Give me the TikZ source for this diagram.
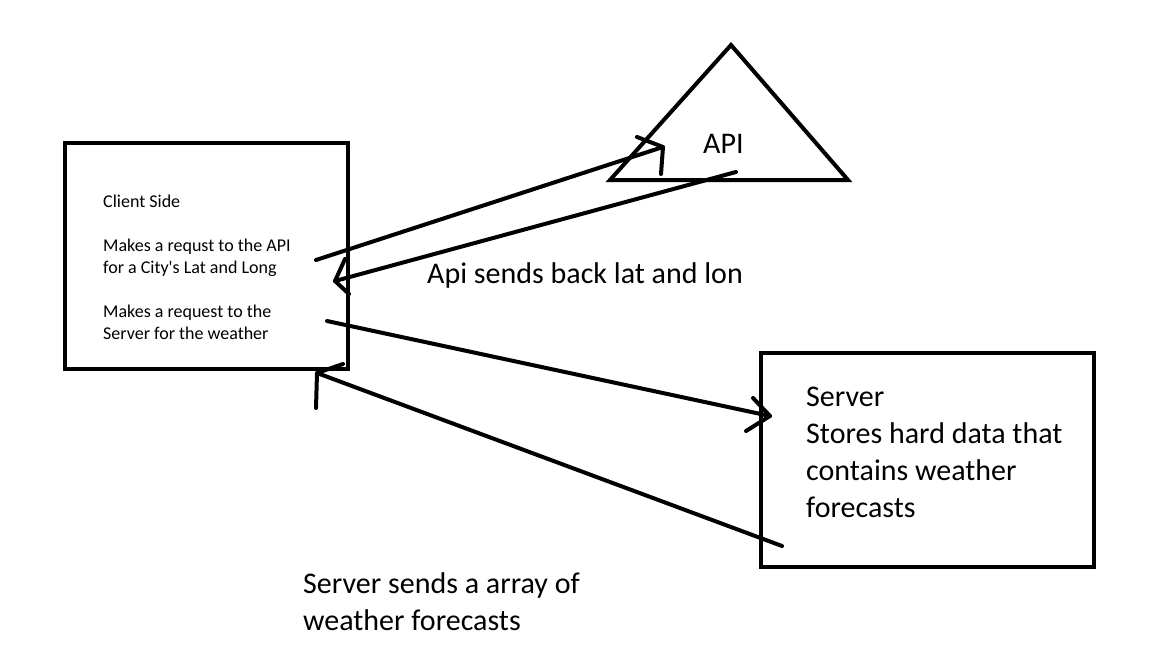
\documentclass[tikz,border=0pt]{standalone}
\usepackage{fontspec}
\setmainfont[Ligatures=TeXOff]{Carlito}
\begin{document}
\begin{tikzpicture}[x=1pt,y=-1pt,
  ink/.style={line width=4pt,black},
  pen/.style={line width=4pt,black,line cap=round,line join=round},
  small/.style={font=\fontsize{18}{22}\selectfont,anchor=base west,inner sep=0pt},
  big/.style={font=\fontsize{30}{37}\selectfont,anchor=base west,inner sep=0pt}]
\useasboundingbox[fill=white] (0,0) rectangle (1152,648);
% shapes
\draw[ink] (65,143) rectangle (348,369);
\coordinate (apex) at (731,45);
\coordinate (bl) at (610,180);
\coordinate (br) at (848,180);
\draw[ink,line join=miter] (apex) -- (br) -- (bl) -- cycle;
\draw[ink] (761,353) rectangle (1094,567);
% texts
\node[small] (cs) at (103,207) {Client Side};
\node[small] (r1) at (103,251) {Makes a requst to the API};
\node[small] (r1b) at (103,273) {for a City's Lat and Long};
\node[small] (r2) at (103,317) {Makes a request to the};
\node[small] (r2b) at (103,339) {Server for the weather};
\node[big] (api) at (703,153) {API};
\node[big] (back) at (427,283) {Api sends back lat and lon};
\node[big] (sv) at (806,406) {Server};
\node[big] (sv1) at (806,443) {Stores hard data that};
\node[big] (sv2) at (806,480) {contains weather};
\node[big] (sv3) at (806,517) {forecasts};
\node[big] (arr1) at (303,593) {Server sends a array of};
\node[big] (arr2) at (303,630) {weather forecasts};
% connectors
\coordinate (a1s) at (316,260); \coordinate (a1t) at (663,147);
\coordinate (a1u) at (637,137); \coordinate (a1d) at (661,174);
\draw[pen] (a1s) -- (a1t);
\draw[pen] (a1u) -- (a1t) -- (a1d);
\coordinate (a2s) at (736,172); \coordinate (a2t) at (335,281);
\coordinate (a2u) at (345,259); \coordinate (a2d) at (349,294);
\draw[pen] (a2s) -- (a2t);
\draw[pen] (a2u) -- (a2t) -- (a2d);
\coordinate (a3s) at (327,321); \coordinate (a3t) at (770,416);
\coordinate (a3u) at (753,398); \coordinate (a3d) at (746,431);
\draw[pen] (a3s) -- (a3t);
\draw[pen] (a3u) -- (a3t) -- (a3d);
\coordinate (a4s) at (782,546); \coordinate (a4t) at (317,373);
\coordinate (a4u) at (343,364); \coordinate (a4d) at (316,408);
\draw[pen] (a4s) -- (a4t);
\draw[pen] (a4u) -- (a4t) -- (a4d);
\end{tikzpicture}
\end{document}
